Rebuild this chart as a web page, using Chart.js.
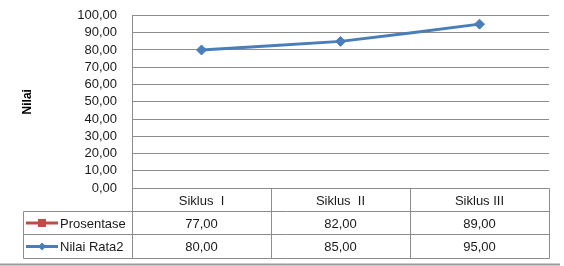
<!DOCTYPE html>
<html><head><meta charset="utf-8">
<script src="https://cdn.jsdelivr.net/npm/chart.js@4/dist/chart.umd.min.js"></script>
<style>html,body{margin:0;padding:0;background:#fff}#wrap{width:564px;height:266px;position:relative}</style>
</head><body><div id="wrap"><canvas id="c" width="564" height="266"></canvas></div>
<script>
const categories = ['Siklus  I', 'Siklus  II', 'Siklus III'];
const prosentase = [77, 82, 89];
const nilaiRata2 = [80, 85, 95];
const seriesNames = ['Prosentase', 'Nilai Rata2'];
const axisTitle = 'Nilai';
const yMin = 0, yMax = 100, yStep = 10;

const FONT = '"Liberation Sans", Arial, sans-serif';
const GRID = '#8c8c8c';
const fmt = v => Number(v).toFixed(2).replace('.', ',');

const tablePlugin = {
  id: 'dataTable',
  afterDraw(chart) {
    const ctx = chart.ctx;
    const xs = chart.scales.x, ys = chart.scales.y;
    const ca = chart.chartArea;
    const top0 = ys.getPixelForValue(0);
    const rowH = 23.2;
    const legendLeft = 23;
    const n = categories.length;
    const colW = (ca.right - ca.left) / n;
    const rows = [top0, top0 + rowH, top0 + 2 * rowH, top0 + 3 * rowH].map(v => Math.round(v) + 0.5);
    ctx.save();
    ctx.strokeStyle = GRID;
    ctx.lineWidth = 1;
    ctx.beginPath();
    ctx.moveTo(Math.round(ca.left) + 0.5, rows[0]); ctx.lineTo(Math.round(ca.right) + 0.5, rows[0]);
    for (let r = 1; r < 4; r++) { ctx.moveTo(legendLeft + 0.5, rows[r]); ctx.lineTo(Math.round(ca.right) + 0.5, rows[r]); }
    ctx.moveTo(legendLeft + 0.5, rows[1]); ctx.lineTo(legendLeft + 0.5, rows[3]);
    for (let i = 0; i <= n; i++) {
      const x = Math.round(ca.left + i * colW) + 0.5;
      ctx.moveTo(x, i === 0 ? ca.top : rows[0]); ctx.lineTo(x, rows[3]);
    }
    ctx.stroke();

    ctx.font = '13px ' + FONT;
    ctx.fillStyle = '#1a1a1a';
    ctx.textBaseline = 'middle';
    ctx.textAlign = 'center';
    categories.forEach((c, i) => {
      ctx.fillText(c, xs.getPixelForValue(i), (rows[0] + rows[1]) / 2 + 1);
    });
    chart.data.datasets.forEach((ds, r) => {
      const cy = (rows[r + 1] + rows[r + 2]) / 2 + 1;
      ds.data.forEach((v, i) => {
        ctx.textAlign = 'center';
        ctx.fillText(fmt(v), xs.getPixelForValue(i), cy);
      });
      const kx0 = 26, kx1 = 58, kc = 42;
      ctx.strokeStyle = ds.borderColor;
      ctx.lineWidth = 3;
      ctx.beginPath(); ctx.moveTo(kx0, cy - 1); ctx.lineTo(kx1, cy - 1); ctx.stroke();
      ctx.fillStyle = ds.pointBackgroundColor;
      if (ds.pointStyle === 'rect') {
        ctx.fillRect(kc - 4, cy - 5, 8, 8);
      } else {
        ctx.beginPath();
        ctx.moveTo(kc, cy - 5); ctx.lineTo(kc + 4, cy - 1); ctx.lineTo(kc, cy + 3); ctx.lineTo(kc - 4, cy - 1);
        ctx.closePath(); ctx.fill();
      }
      ctx.fillStyle = '#1a1a1a';
      ctx.textAlign = 'left';
      ctx.fillText(ds.label, 60, cy);
    });
    ctx.strokeStyle = '#9a9a9a';
    ctx.lineWidth = 2;
    ctx.beginPath(); ctx.moveTo(0, 264.5); ctx.lineTo(560, 264.5); ctx.stroke();
    ctx.restore();
  }
};

new Chart(document.getElementById('c'), {
  type: 'line',
  data: {
    labels: categories,
    datasets: [
      {
        label: seriesNames[0], data: prosentase, hidden: true,
        borderColor: '#BE4B48', backgroundColor: '#BE4B48', pointBackgroundColor: '#BE4B48',
        pointStyle: 'rect', borderWidth: 3, pointRadius: 5
      },
      {
        label: seriesNames[1], data: nilaiRata2,
        borderColor: '#4A7EBB', backgroundColor: '#4A7EBB', pointBackgroundColor: '#4A7EBB', pointBorderColor: '#4A7EBB',
        pointStyle: 'rectRot', borderWidth: 3, pointRadius: 5, pointBorderWidth: 1, tension: 0.1
      }
    ]
  },
  options: {
    responsive: false,
    devicePixelRatio: 1,
    animation: false,
    layout: { padding: { top: 15.5, right: 15, bottom: 78, left: 0 } },
    plugins: { legend: { display: false }, tooltip: { enabled: false } },
    scales: {
      x: { display: false, offset: true },
      y: {
        min: yMin, max: yMax,
        afterFit: s => { s.width = 132; },
        ticks: {
          stepSize: yStep, autoSkip: false, color: '#1a1a1a', padding: 3,
          font: { family: FONT, size: 13 },
          callback: v => fmt(v)
        },
        grid: { color: GRID, drawTicks: true, tickLength: 12, tickColor: 'rgba(0,0,0,0)', lineWidth: 1 },
        border: { display: true, color: GRID },
        title: {
          display: true, text: axisTitle, color: '#000',
          font: { family: FONT, size: 12, weight: 'bold' },
          padding: { top: 20, bottom: 0 }
        }
      }
    }
  },
  plugins: [tablePlugin]
});
</script></body></html>
